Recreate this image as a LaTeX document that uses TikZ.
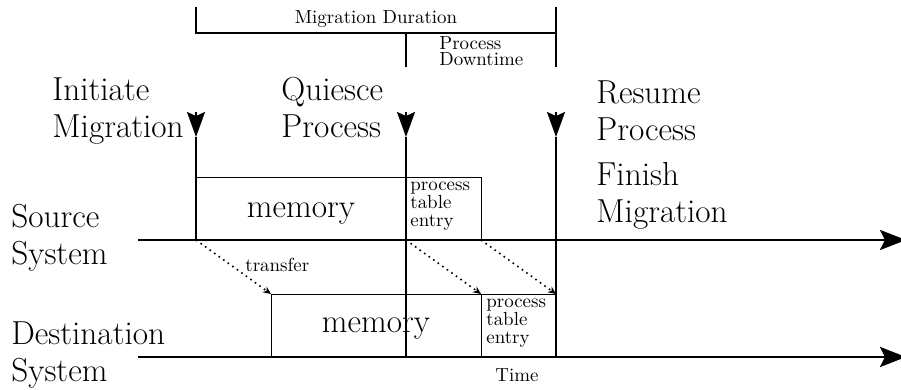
\documentclass[tikz,border=0pt]{standalone}
\usetikzlibrary{arrows.meta}
\newcommand{\bigsz}{\fontsize{16.7}{19}\selectfont}
\newcommand{\smsz} {\fontsize{9.5}{9.25}\selectfont}

\begin{document}
\begin{tikzpicture}[x=0.5bp,y=-0.5bp,
    axis/.style={line width=1.4bp,-{Stealth[length=13bp,width=10bp,inset=2.5bp]}},
    evline/.style={line width=1bp},
    evtip/.style={-{Stealth[length=12.5bp,width=9bp,inset=2bp]}},
    xfer/.style={thick,dotted,-{Stealth[length=4bp,width=3.5bp]}},
    lbl/.style={align=left,anchor=base west,inner sep=0pt,font=\bigsz},
    note/.style={align=left,anchor=base west,inner sep=0pt,font=\smsz}]
     \useasboundingbox (0,0) rectangle (901,390);
     % time axes
     \coordinate (src0) at (138,240);  \coordinate (src1) at (906,240);
     \coordinate (dst0) at (138,357);  \coordinate (dst1) at (906,357);
     \draw[axis] (src0) -- (src1);
     \draw[axis] (dst0) -- (dst1);
     % events
     \coordinate (init)    at (196,240);
     \coordinate (quiesce) at (406,357);
     \coordinate (resume)  at (556,357);
     \foreach \e/\x in {init/196,quiesce/406,resume/556} {
       \coordinate (\e top) at (\x,112);
       \coordinate (\e tip) at (\x,137);
       \draw[evline,evtip] (\e top) -- (\e tip);
       \draw[evline] (\e tip) -- (\e);
     }
     % memory and process table entry
     \draw[thin] (196,177) rectangle (406,240);
     \draw[thin] (406,177) rectangle (481,240);
     \draw[thin] (271,294) rectangle (481,357);
     \draw[thin] (481,294) rectangle (556,357);
     \draw[evline] (406,177) -- (quiesce);
     \draw[evline] (556,137) -- (resume);
     \node[anchor=base,inner sep=0pt,font=\bigsz] (srcmem) at (301,218) {memory};
     \node[anchor=base,inner sep=0pt,font=\bigsz] (dstmem) at (376,333) {memory};
     \node[note] (srcpte) at (410,227) {process\\table\\entry};
     \node[note] (dstpte) at (486,344) {process\\table\\entry};
     % transfers
     \coordinate (a0) at (196,240);  \coordinate (a1) at (271,294);
     \coordinate (b0) at (406,240);  \coordinate (b1) at (481,294);
     \coordinate (c0) at (481,240);  \coordinate (c1) at (556,294);
     \draw[xfer] (a0) -- (a1);
     \draw[xfer] (b0) -- (b1);
     \draw[xfer] (c0) -- (c1);
     \node[note] (xferlbl) at (245,272) {transfer};
     % durations
     \draw[evline] (196,7) -- (196,33) -- (556,33);
     \draw[evline] (556,7) -- (556,67);
     \draw[evline] (406,33) -- (406,67);
     \node[anchor=base,inner sep=0pt,font=\smsz] (migdur) at (376,24) {Migration Duration};
     \node[note,font=\fontsize{9.5}{8.3}\selectfont] (downtime) at (439,66) {Process\\Downtime};
     % labels
     \node[lbl] (initlbl)    at (52,138)  {Initiate\\Migration};
     \node[lbl] (quiescelbl) at (281,138) {Quiesce\\Process};
     \node[lbl] (resumelbl)  at (596,141) {Resume\\Process};
     \node[lbl] (finishlbl)  at (596,223) {Finish\\Migration};
     \node[lbl] (srclbl)     at (11,265)  {Source\\System};
     \node[lbl] (dstlbl)     at (11,382)  {Destination\\System};
     \node[anchor=base,inner sep=0pt,font=\smsz] (timelbl) at (517,382) {Time};
    \end{tikzpicture}
\end{document}
